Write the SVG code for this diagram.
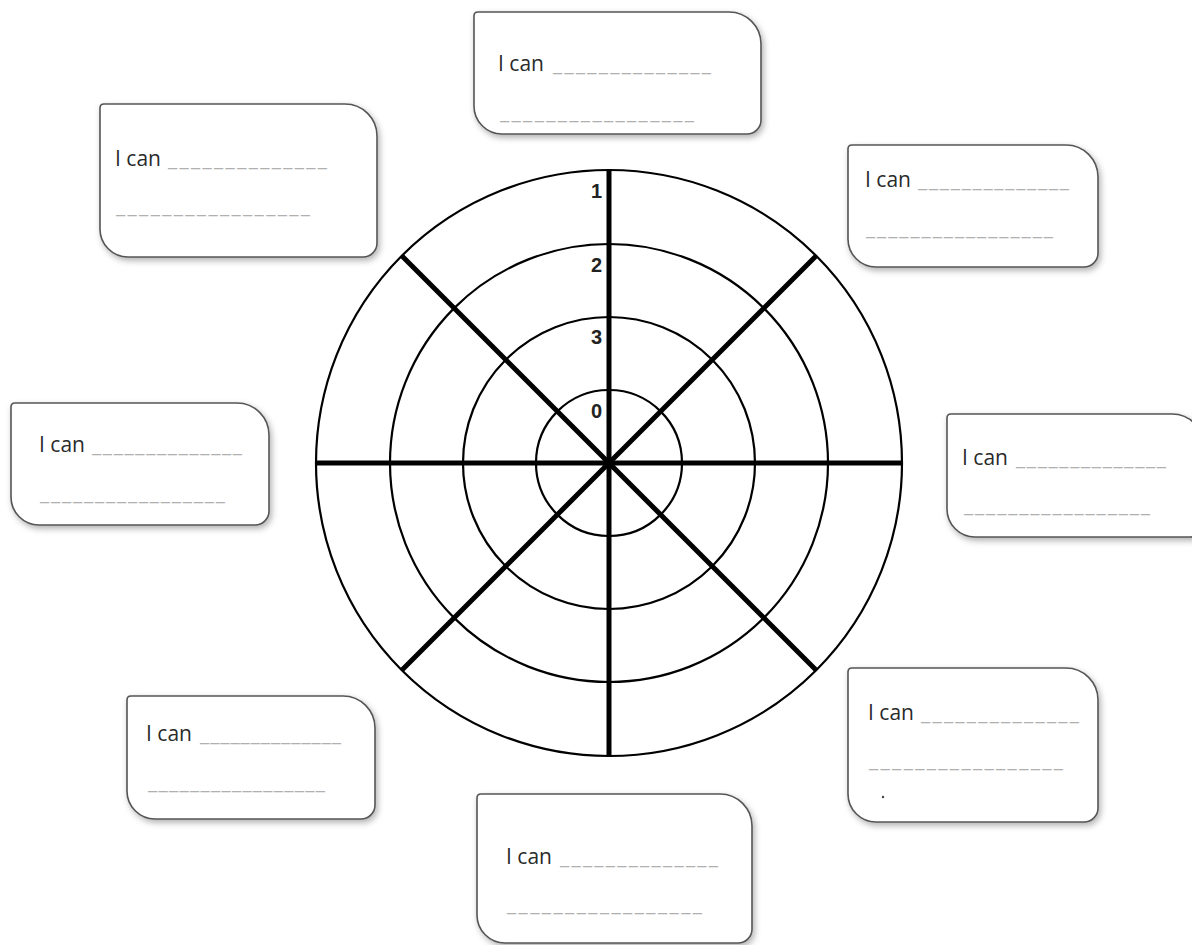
<svg xmlns="http://www.w3.org/2000/svg" width="1192" height="945" viewBox="0 0 1192 945">
<defs>
<filter id="sh" x="-10%" y="-10%" width="125%" height="130%">
<feDropShadow dx="2" dy="3" stdDeviation="3" flood-color="#000" flood-opacity="0.3"/>
</filter>
<filter id="sh2" x="-10%" y="-50%" width="120%" height="200%">
<feDropShadow dx="0" dy="2" stdDeviation="3" flood-color="#000" flood-opacity="0.12"/>
</filter>
</defs>
<style>
.box{fill:#fff;stroke:#555;stroke-width:1.6;filter:url(#sh)}
.lbl{font-family:"Open Sans","Liberation Sans",sans-serif;font-size:21px;fill:#2a2a2a}
.ul{font-family:"Open Sans","Liberation Sans",sans-serif;font-size:21px;fill:#b0b0b0}
.ring{fill:none;stroke:#000;stroke-width:2.2}
.spoke{stroke:#000;stroke-width:5;stroke-linecap:butt}
.num{font-family:"Liberation Sans",Arial,sans-serif;font-weight:bold;font-size:20px;fill:#222;text-anchor:end}
</style>
<rect width="1192" height="945" fill="#fff"/>
<g id="hidden-box"><path d="M870,-120 H1180 V-4 H870 Z" fill="#fff" filter="url(#sh2)"/></g>
<g id="wheel">
<circle class="ring" cx="609" cy="463" r="293"/>
<circle class="ring" cx="609" cy="463" r="219"/>
<circle class="ring" cx="609" cy="463" r="146"/>
<circle class="ring" cx="609" cy="463" r="73"/>
<line class="spoke" x1="609" y1="170" x2="609" y2="756"/>
<line class="spoke" x1="316" y1="463" x2="902" y2="463"/>
<line class="spoke" x1="402" y1="256" x2="816" y2="670"/>
<line class="spoke" x1="816" y1="256" x2="402" y2="670"/>
<text class="num" x="602" y="198">1</text>
<text class="num" x="602" y="272">2</text>
<text class="num" x="602" y="344">3</text>
<text class="num" x="602" y="418">0</text>
</g>
<g id="box1">
<path class="box" d="M474,16 Q474,12 478,12 H729 A32,32 0 0 1 761,44 V120 A14,14 0 0 1 747,134 H502 A28,28 0 0 1 474,106 Z"/>
<text class="lbl" x="498" y="71">I can</text>
<text class="ul" x="553" y="71" textLength="158" lengthAdjust="spacing">______________</text>
<text class="ul" x="500" y="119" textLength="194" lengthAdjust="spacing">_________________</text>
</g>
<g id="box2">
<path class="box" d="M100,108 Q100,104 104,104 H345 A32,32 0 0 1 377,136 V243 A14,14 0 0 1 363,257 H128 A28,28 0 0 1 100,229 Z"/>
<text class="lbl" x="115" y="166">I can</text>
<text class="ul" x="168" y="166" textLength="159" lengthAdjust="spacing">______________</text>
<text class="ul" x="116" y="213" textLength="194" lengthAdjust="spacing">_________________</text>
</g>
<g id="box3">
<path class="box" d="M848,149 Q848,145 852,145 H1066 A32,32 0 0 1 1098,177 V253 A14,14 0 0 1 1084,267 H876 A28,28 0 0 1 848,239 Z"/>
<text class="lbl" x="865" y="187">I can</text>
<text class="ul" x="918" y="187" textLength="151" lengthAdjust="spacing">______________</text>
<text class="ul" x="866" y="235" textLength="187" lengthAdjust="spacing">_________________</text>
</g>
<g id="box4">
<path class="box" d="M11,407 Q11,403 15,403 H237 A32,32 0 0 1 269,435 V511 A14,14 0 0 1 255,525 H39 A28,28 0 0 1 11,497 Z"/>
<text class="lbl" x="39" y="452">I can</text>
<text class="ul" x="92" y="452" textLength="150" lengthAdjust="spacing">______________</text>
<text class="ul" x="40" y="500" textLength="185" lengthAdjust="spacing">_________________</text>
</g>
<g id="box5">
<path class="box" d="M947,418 Q947,414 951,414 H1172 A32,32 0 0 1 1204,446 V523 A14,14 0 0 1 1190,537 H975 A28,28 0 0 1 947,509 Z"/>
<text class="lbl" x="962" y="465">I can</text>
<text class="ul" x="1016" y="465" textLength="150" lengthAdjust="spacing">______________</text>
<text class="ul" x="964" y="512" textLength="186" lengthAdjust="spacing">_________________</text>
</g>
<g id="box6">
<path class="box" d="M127,700 Q127,696 131,696 H343 A32,32 0 0 1 375,728 V805 A14,14 0 0 1 361,819 H155 A28,28 0 0 1 127,791 Z"/>
<text class="lbl" x="146" y="741">I can</text>
<text class="ul" x="200" y="741" textLength="141" lengthAdjust="spacing">______________</text>
<text class="ul" x="148" y="789" textLength="177" lengthAdjust="spacing">_________________</text>
</g>
<g id="box7">
<path class="box" d="M848,672 Q848,668 852,668 H1066 A32,32 0 0 1 1098,700 V808 A14,14 0 0 1 1084,822 H876 A28,28 0 0 1 848,794 Z"/>
<text class="lbl" x="868" y="720">I can</text>
<text class="ul" x="921" y="720" textLength="158" lengthAdjust="spacing">______________</text>
<text class="ul" x="869" y="767" textLength="194" lengthAdjust="spacing">_________________</text>
<circle cx="883" cy="797" r="1.2" fill="#444"/>
</g>
<g id="box8">
<path class="box" d="M477,798 Q477,794 481,794 H720 A32,32 0 0 1 752,826 V929 A14,14 0 0 1 738,943 H505 A28,28 0 0 1 477,915 Z"/>
<text class="lbl" x="506" y="864">I can</text>
<text class="ul" x="560" y="864" textLength="158" lengthAdjust="spacing">______________</text>
<text class="ul" x="507" y="911" textLength="195" lengthAdjust="spacing">_________________</text>
</g>
<g id="connectors"></g>
</svg>
